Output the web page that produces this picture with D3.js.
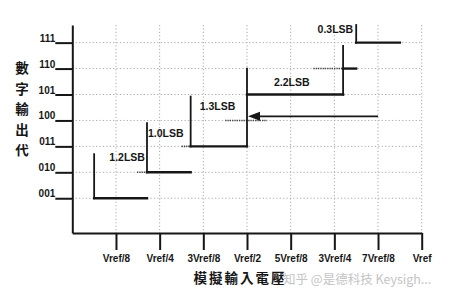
<!DOCTYPE html>
<html><head><meta charset="utf-8">
<script src="https://cdn.jsdelivr.net/npm/d3@7/dist/d3.min.js"></script>
<style>
html,body{margin:0;padding:0;background:#fff;}
svg{display:block;}
</style></head>
<body>
<script>
// ---- data ----
const codeLabels = ["001","010","011","100","101","110","111"];
const codeValues = [1,2,3,4,5,6,7];
const xTickLabels = ["Vref/8","Vref/4","3Vref/8","Vref/2","5Vref/8","3Vref/4","7Vref/8","Vref"];
const xTickValues = [1,2,3,4,5,6,7,8];            // in Vref/8 units
// transfer steps (x in Vref/8 units, y in code units); code 100 missing
const stepCode  = [1, 2, 3, 5, 6, 7];
const stepStart = [0.5, 1.71, 2.71, 4.0, 6.2, 6.5];
const stepEnd   = [1.71, 2.71, 4.0, 6.2, 6.5, 7.5];
const markFrom  = [1, 2, 3, 3, 5, 7];             // vertical marker bottom (code units)
const markTo    = [2.7, 3.9, 4.92, 6.0, 6.87, 7.68];
const leadStart = [null, 1.48, 2.5, null, 5.52, null];
const widthLabels = ["1.2LSB","1.0LSB","1.3LSB","2.2LSB","0.3LSB"];
const missingCode = 4;
const missingDotFrom = 3.5, missingDotTo = 4.46;
const arrowLevel = 4.16, arrowFrom = 7.0, arrowTo = 4.0;
const yTitle = "數字輸出代";
const xTitle = "模擬輸入電壓";
const watermark = "知乎 @是德科技 Keysigh...";

// ---- layout ----
const W = 450, H = 298;
const svg = d3.select("body").append("svg").attr("width", W).attr("height", H);
const x = d3.scaleLinear().domain([0, 8]).range([72.3, 421.7]);
const y = d3.scaleLinear().domain([-0.34, 7.68]).range([233, 25]);
const ink = "#161616";
const font = "'Liberation Sans', Arial, Helvetica, sans-serif";

// grid
const grid = svg.append("g").attr("stroke", "#a8a8a8").attr("stroke-width", 1)
  .attr("stroke-dasharray", "1.2,2.2").attr("fill", "none");
grid.selectAll("line.v").data(xTickValues).join("line")
  .attr("x1", d => x(d)).attr("x2", d => x(d)).attr("y1", y(7.68)).attr("y2", y(-0.34));
grid.selectAll("line.h").data(codeValues).join("line")
  .attr("x1", x(0)).attr("x2", x(8)).attr("y1", d => y(d)).attr("y2", d => y(d));

// x axis
const xAxis = d3.axisBottom(x).tickValues(xTickValues).tickSize(17).tickSizeOuter(0)
  .tickPadding(5).tickFormat((d, i) => xTickLabels[i]);
const gx = svg.append("g").attr("transform", `translate(0,${y(-0.34)})`).call(xAxis);
gx.selectAll("path,line").attr("stroke", ink).attr("stroke-width", 2);
gx.selectAll("text").attr("fill", ink).style("font", `bold 10px ${font}`);

// y axis
const yAxis = d3.axisLeft(y).tickValues(codeValues).tickSize(17).tickSizeOuter(0)
  .tickFormat((d, i) => codeLabels[i]);
const gy = svg.append("g").attr("transform", `translate(${x(0)},0)`).call(yAxis);
gy.selectAll("path,line").attr("stroke", ink).attr("stroke-width", 2);
gy.selectAll("text").attr("fill", ink).style("font", `bold 10px ${font}`)
  .attr("x", -17).attr("dy", "-1.5").attr("text-anchor", "end");

// dotted leads
const dots = svg.append("g").attr("stroke", "#444").attr("stroke-width", 1.6)
  .attr("stroke-dasharray", "1.3,1");
stepCode.forEach((c, i) => {
  if (leadStart[i] == null) return;
  dots.append("line").attr("x1", x(leadStart[i])).attr("x2", x(stepStart[i]))
    .attr("y1", y(c)).attr("y2", y(c));
});
dots.append("line").attr("x1", x(missingDotFrom)).attr("x2", x(missingDotTo))
  .attr("y1", y(missingCode)).attr("y2", y(missingCode));

// steps
const steps = svg.append("g").attr("stroke", ink).attr("stroke-linecap", "square");
steps.selectAll("line.m").data(stepCode).join("line")
  .attr("stroke-width", 1.8)
  .attr("x1", (d, i) => x(stepStart[i])).attr("x2", (d, i) => x(stepStart[i]))
  .attr("y1", (d, i) => y(markFrom[i])).attr("y2", (d, i) => y(markTo[i]));
steps.selectAll("line.s").data(stepCode).join("line")
  .attr("stroke-width", 2.4)
  .attr("x1", (d, i) => x(stepStart[i])).attr("x2", (d, i) => x(stepEnd[i]))
  .attr("y1", d => y(d)).attr("y2", d => y(d));

// arrow (missing code)
svg.append("line").attr("stroke", ink).attr("stroke-width", 1.7)
  .attr("x1", x(arrowFrom)).attr("x2", x(arrowTo) + 8)
  .attr("y1", y(arrowLevel)).attr("y2", y(arrowLevel));
const ax = x(arrowTo), ay = y(arrowLevel);
svg.append("path").attr("fill", ink)
  .attr("d", `M${ax + 1},${ay} L${ax + 13},${ay - 4.5} L${ax + 13},${ay + 4.5} Z`);

// width labels (anchored to their steps)
const lab = svg.append("g").attr("fill", ink).style("font", `bold 10.5px ${font}`);
lab.append("text").attr("x", x(stepEnd[0]) - 2).attr("y", y(2.59) + 4).attr("text-anchor", "end").text(widthLabels[0]);
lab.append("text").attr("x", x(stepStart[1]) + 1).attr("y", y(3.53) + 4).text(widthLabels[1]);
lab.append("text").attr("x", x(stepStart[2]) + 9).attr("y", y(4.57) + 4).text(widthLabels[2]);
lab.append("text").attr("x", x(stepStart[3]) + 27).attr("y", y(5.48) + 4).text(widthLabels[3]);
lab.append("text").attr("x", x(stepStart[5]) - 3).attr("y", y(7.52) + 4).attr("text-anchor", "end").text(widthLabels[4]);

// y title (vertical stacked)
const cjk = "'Noto Sans CJK TC','Noto Sans CJK SC',sans-serif";
svg.append("g").selectAll("text").data(Array.from(yTitle)).join("text")
  .attr("x", 22).attr("y", (d, i) => 68.5 + i * 20.5).attr("dy", "0.36em")
  .attr("text-anchor", "middle").attr("fill", ink)
  .style("font", `bold 13.5px ${cjk}`).text(d => d);

// x title
svg.append("text").attr("x", 240).attr("y", 278.5).attr("dy", "0.36em")
  .attr("text-anchor", "middle").attr("fill", ink)
  .style("font", `bold 13.5px ${cjk}`).style("letter-spacing", "2px").text(xTitle);

// watermark
svg.append("text").attr("x", 283).attr("y", 279.5).attr("dy", "0.36em")
  .attr("fill", "#c4c4c4").style("font", `12.5px ${cjk}`).text(watermark);
</script>
</body></html>
